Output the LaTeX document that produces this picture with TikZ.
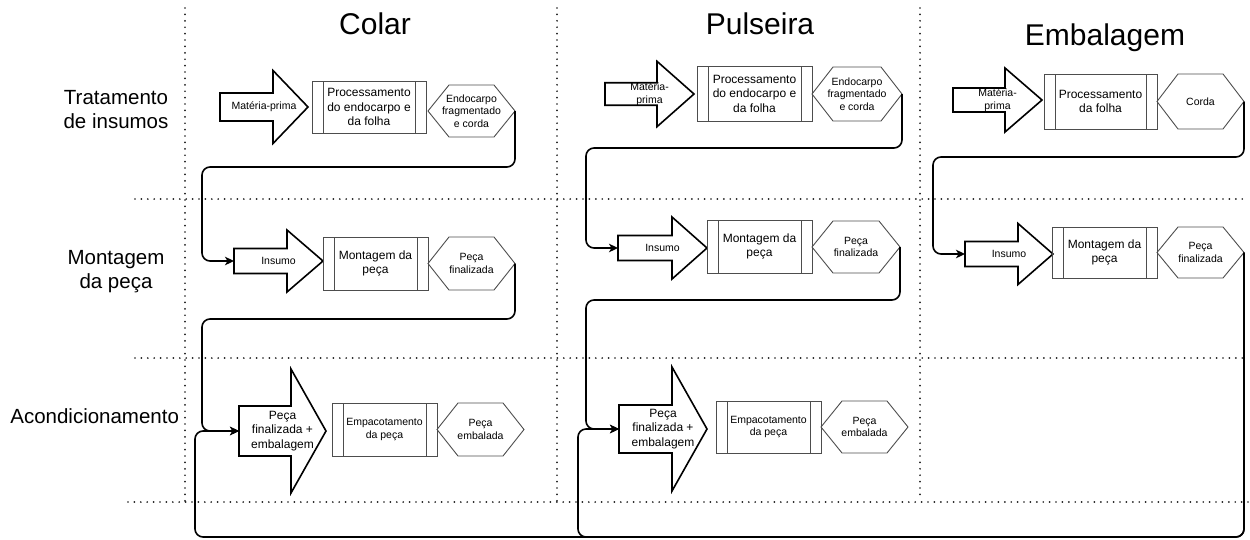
\documentclass[tikz,border=0pt]{standalone}
\usepackage{fontspec}
\setmainfont{Liberation Sans}
\usetikzlibrary{arrows.meta}

\definecolor{boxgray}{HTML}{4D4D4D}
\definecolor{gridgray}{HTML}{1A1A1A}

% Block arrow: #1 text style, #2 name, #3 shaft left x, #4 tip x, #5 centre y,
% #6 shaft height, #7 head length, #8 head overhang above/below the shaft, #9 text
\newcommand{\flowarrow}[9]{%
  \node[#1, minimum width={(#4-#3)*1pt}, minimum height={#6*1pt}] (#2) at ({(#3+#4)/2},#5) {#9};
  \draw[blockline] (#2.south west) -- (#2.north west) -- ([xshift=-#7pt]#2.north east)
    -- ([xshift=-#7pt,yshift=#8pt]#2.north east) -- (#2.east)
    -- ([xshift=-#7pt,yshift=-#8pt]#2.south east) -- ([xshift=-#7pt]#2.south east) -- cycle;
}

% Elongated hexagon: #1 name, #2 left x, #3 right x, #4 top y, #5 bottom y, #6 text
\newcommand{\hexnode}[6]{%
  \node[smalltxt, minimum width={(#3-#2)*1pt}, minimum height={(#5-#4)*1pt}] (#1) at ({(#2+#3)/2},{(#4+#5)/2}) {#6};
  \draw[thinline] (#1.west) -- ([xshift=21pt]#1.north west) -- ([xshift=-21pt]#1.north east)
    -- (#1.east) -- ([xshift=-21pt]#1.south east) -- ([xshift=21pt]#1.south west) -- cycle;
}

\begin{document}
\begin{tikzpicture}[x=1pt,y=-1pt,
  every node/.style={inner sep=0pt, outer sep=0pt, align=center, text=black},
  smalltxt/.style={font=\fontsize{10.5}{12.5}\selectfont},
  bigtxt/.style={font=\fontsize{12}{14.5}\selectfont},
  procbox/.style={draw=boxgray, line width=0.9pt,
    path picture={\draw[boxgray, line width=0.9pt]
      ([xshift=11pt]path picture bounding box.north west) -- ([xshift=11pt]path picture bounding box.south west)
      ([xshift=-11pt]path picture bounding box.north east) -- ([xshift=-11pt]path picture bounding box.south east);}},
  thinline/.style={draw=boxgray, line width=0.9pt, line join=miter},
  blockline/.style={draw=black, line width=1.6pt, line join=miter},
  flowline/.style={draw=black, line width=1.6pt, rounded corners=8pt,
    -{Stealth[length=9pt,width=8.5pt,inset=2.5pt]}},
  gridline/.style={draw=gridgray, line width=1.9pt, line cap=round, dash pattern=on 0pt off 6.4pt},
  lanetitle/.style={font=\fontsize{30}{36}\selectfont},
  rowlabel/.style={font=\fontsize{20.5}{24}\selectfont},
]
\useasboundingbox (0,0) rectangle (1250,539);

% lane separators
\draw[gridline] (185,8) -- (185,503);
\draw[gridline] (557,8) -- (557,503);
\draw[gridline] (920,8) -- (920,500);
\draw[gridline] (135,199) -- (1248,199);
\draw[gridline] (135,358) -- (1248,358);
\draw[gridline] (128,502) -- (1248,502);

% column and row headings
\node[lanetitle, anchor=base] (tcolar) at (375,34) {Colar};
\node[lanetitle, anchor=base] (tpuls) at (760,34) {Pulseira};
\node[lanetitle, anchor=base] (temb) at (1105,45) {Embalagem};
\node[rowlabel] (rtrat) at (116,110) {Tratamento\\de insumos};
\node[rowlabel] (rmont) at (116,272) {Montagem\\da peça};
\node[rowlabel, anchor=base east] (racond) at (179,423) {Acondicionamento};

% Colar
\flowarrow{smalltxt}{a1}{220}{308}{107}{28}{35}{22.5}{Matéria-prima}
\node[procbox, bigtxt, minimum width=114pt, minimum height=52pt] (p1) at (369,107) {Processamento\\do endocarpo e\\da folha};
\hexnode{h1}{428}{515}{85}{137}{Endocarpo\\fragmentado\\e corda}

\flowarrow{smalltxt}{a2}{234}{323}{261}{25}{36}{18.5}{Insumo}
\node[procbox, bigtxt, minimum width=105pt, minimum height=53pt] (p2) at (375.5,263.5) {Montagem da\\peça};
\hexnode{h2}{428}{515}{237}{290}{Peça\\finalizada}

\flowarrow{bigtxt}{a3}{239}{326}{431}{50}{35}{37}{Peça\\finalizada +\\embalagem}
\node[procbox, smalltxt, minimum width=105pt, minimum height=53pt] (p3) at (384.5,429.5) {Empacotamento\\da peça};
\hexnode{h3}{437}{524}{403}{456}{Peça\\embalada}

% Pulseira
\flowarrow{smalltxt}{b1}{605}{694}{94}{22}{37}{21.5}{Matéria-\\prima}
\node[procbox, bigtxt, minimum width=115pt, minimum height=55pt] (q1) at (754.5,93.5) {Processamento\\do endocarpo e\\da folha};
\hexnode{k1}{812}{902}{67}{121}{Endocarpo\\fragmentado\\e corda}

\flowarrow{smalltxt}{b2}{618}{707}{248}{25}{35}{18.5}{Insumo}
\node[procbox, bigtxt, minimum width=105pt, minimum height=53pt] (q2) at (759.5,246.5) {Montagem da\\peça};
\hexnode{k2}{812}{900}{221}{273}{Peça\\finalizada}

\flowarrow{bigtxt}{b3}{619}{707}{429}{48}{35}{38}{Peça\\finalizada +\\embalagem}
\node[procbox, smalltxt, minimum width=105pt, minimum height=52pt] (q3) at (768.5,427) {Empacotamento\\da peça};
\hexnode{k3}{821}{908}{401}{453}{Peça\\embalada}

% Embalagem
\flowarrow{smalltxt}{e1}{953}{1042}{100}{24}{37}{20}{Matéria-\\prima}
\node[procbox, bigtxt, minimum width=113pt, minimum height=55pt] (r1) at (1100.5,101.5) {Processamento\\da folha};
\hexnode{l1}{1157}{1244}{74}{129}{Corda}

\flowarrow{smalltxt}{e2}{965}{1053}{254}{25}{35}{18}{Insumo}
\node[procbox, bigtxt, minimum width=105pt, minimum height=51pt] (r2) at (1104.5,252.5) {Montagem da\\peça};
\hexnode{l2}{1157}{1244}{227}{278}{Peça\\finalizada}

% flow between stages
\draw[flowline] (h1.east) |- (202,167) |- (a2.west);
\draw[flowline] (h2.east) |- (202,319) |- (a3.west);
\draw[flowline] (k1.east) |- (586,148) |- (b2.west);
\draw[flowline] (k2.east) |- (586,300) |- (b3.west);
\draw[flowline] (l1.east) |- (933,157) |- (e2.west);
\draw[flowline] (l2.east) |- (195,537) |- (a3.west);
\draw[flowline] (l2.east) |- (578,537) |- (b3.west);
\end{tikzpicture}
\end{document}
